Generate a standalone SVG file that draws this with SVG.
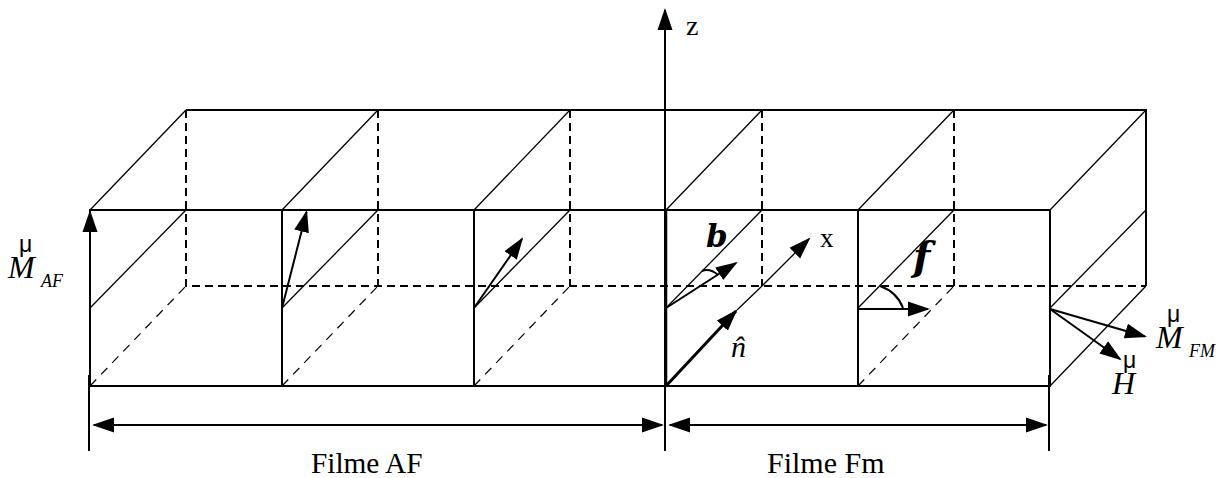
<svg xmlns="http://www.w3.org/2000/svg" width="1227" height="478" viewBox="0 0 1227 478">
<style>
text{font-family:"Liberation Serif","Times New Roman",serif;fill:#000}
.i{font-style:italic}
.bi{font-family:"DejaVu Serif","Liberation Serif",serif;font-style:italic;font-weight:bold}
.v{font-family:"Liberation Sans",Arial,sans-serif;font-size:23px}
.m{font-style:italic;font-size:32px}
.s{font-style:italic;font-size:18px}
line,path{fill:none;stroke:#000}
.f{stroke-width:2}
.t{stroke-width:1.3}
.d{stroke-width:2;stroke-dasharray:8 5}
.dt{stroke-width:1.2;stroke-dasharray:9 7}
.a{stroke-width:2;marker-end:url(#h)}
</style>
<defs>
<marker id="h" markerUnits="userSpaceOnUse" markerWidth="24" markerHeight="18" refX="20" refY="8.5" orient="auto-start-reverse"><path d="M0 1L22 8.5L0 16Z" style="fill:#000;stroke:none"/></marker>
</defs>
<rect width="1227" height="478" fill="#fff"/>
<g id="box-back">
<path class="f" d="M186 110H1146V286"/>
<path class="d" d="M186 110V286H1146"/>
<line class="d" x1="378" y1="110" x2="378" y2="286"/>
<line class="d" x1="570" y1="110" x2="570" y2="286"/>
<line class="d" x1="762" y1="110" x2="762" y2="286"/>
<line class="d" x1="954" y1="110" x2="954" y2="286"/>
</g>
<g id="box-diagonals">
<line class="t" x1="90" y1="210" x2="186" y2="110"/>
<line class="t" x1="282" y1="210" x2="378" y2="110"/>
<line class="t" x1="474" y1="210" x2="570" y2="110"/>
<line class="t" x1="666" y1="210" x2="762" y2="110"/>
<line class="t" x1="858" y1="210" x2="954" y2="110"/>
<line class="t" x1="1050" y1="210" x2="1146" y2="110"/>
<line class="t" x1="90" y1="308" x2="186" y2="210"/>
<line class="t" x1="282" y1="308" x2="378" y2="210"/>
<line class="t" x1="474" y1="308" x2="570" y2="210"/>
<line class="t" x1="666" y1="308" x2="762" y2="210"/>
<line class="t" x1="858" y1="308" x2="954" y2="210"/>
<line class="t" x1="1050" y1="308" x2="1146" y2="210"/>
<line class="dt" x1="90" y1="386" x2="186" y2="286"/>
<line class="dt" x1="282" y1="386" x2="378" y2="286"/>
<line class="dt" x1="474" y1="386" x2="570" y2="286"/>
<line class="dt" x1="858" y1="386" x2="954" y2="286"/>
<line class="t" x1="1050" y1="386" x2="1146" y2="286"/>
</g>
<g id="box-front">
<path class="f" d="M90 210H1050V386H90Z"/>
<line class="f" x1="282" y1="210" x2="282" y2="386"/>
<line class="f" x1="474" y1="210" x2="474" y2="386"/>
<line class="f" x1="858" y1="210" x2="858" y2="386"/>
<line x1="666" y1="210" x2="666" y2="386" stroke-width="2.5"/>
</g>
<g id="connectors">
<line class="a" x1="665" y1="451" x2="665" y2="10"/>
<line class="f" x1="89" y1="375" x2="89" y2="451"/>
<line class="f" x1="1049" y1="375" x2="1049" y2="451"/>
<line class="a" x1="90" y1="386" x2="90" y2="212"/>
<line class="a" x1="282" y1="308" x2="306.5" y2="212"/>
<line class="a" x1="474" y1="308" x2="522" y2="239"/>
<line class="a" x1="666" y1="308" x2="736" y2="263"/>
<line x1="666" y1="386" x2="736" y2="311" stroke-width="3" marker-end="url(#h)"/>
<line class="t" x1="737" y1="310" x2="762" y2="286"/>
<line class="t" x1="762" y1="286" x2="809" y2="239" marker-end="url(#h)"/>
<line class="a" x1="858" y1="309" x2="928" y2="309"/>
<line class="a" x1="1050" y1="309" x2="1145" y2="336.5"/>
<line class="a" x1="1050" y1="309" x2="1120" y2="359"/>
<line class="f" x1="94" y1="425" x2="662" y2="425" style="marker-start:url(#h);marker-end:url(#h)"/>
<line class="f" x1="670" y1="425" x2="1046" y2="425" style="marker-start:url(#h);marker-end:url(#h)"/>
<path class="f" d="M702 271Q710 268 718 275"/>
<path class="f" d="M880 286Q897 292 903 308"/>
</g>
<g id="labels">
<text x="686" y="34.5" font-size="28">z</text>
<text x="820" y="247" font-size="27">x</text>
<text x="706" y="247" font-size="31" class="bi">b</text>
<text x="913" y="270" font-size="40" class="bi">f</text>
<text x="731" y="357" font-size="30" class="i">n<tspan dx="-12.5">ˆ</tspan></text>
<text x="19" y="252" class="v">μ</text>
<text x="8" y="278" class="m">M</text>
<text x="41" y="287" class="s">AF</text>
<text x="1167" y="322" class="v">μ</text>
<text x="1156" y="348" class="m">M</text>
<text x="1189" y="357" class="s">FM</text>
<text x="1123" y="368" class="v">μ</text>
<text x="1112" y="394" class="m">H</text>
<text x="311" y="473" font-size="29.3">Filme AF</text>
<text x="767" y="473" font-size="30">Filme Fm</text>
</g>
</svg>
